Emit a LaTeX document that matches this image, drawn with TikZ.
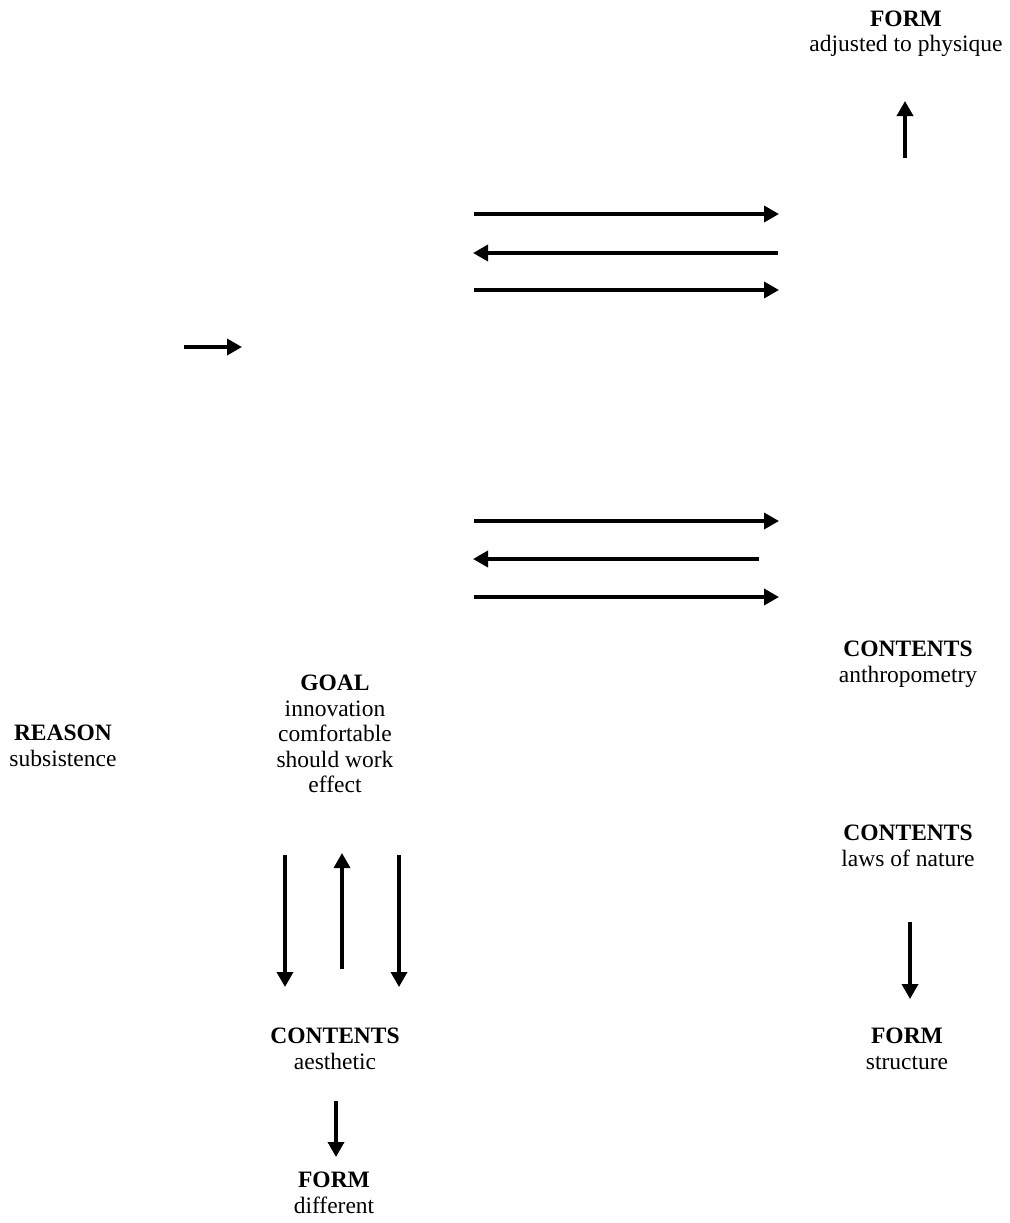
\documentclass[tikz,border=0pt]{standalone}
\usepackage{fontspec}
\setmainfont{Liberation Serif}
\usetikzlibrary{arrows.meta}
\tikzset{
  lbl/.style={align=center, inner sep=0pt, font={\fontsize{23.5}{25.5}\selectfont}},
  arr/.style={line width=3.5pt, -{Triangle[length=15pt,width=16pt]}}
}
\begin{document}
\begin{tikzpicture}[x=1pt,y=-1pt]
\useasboundingbox (0,0) rectangle (1009,1223);
% text nodes
\node[lbl] (formtop) at (906,34) {\textbf{FORM}\\adjusted to physique};
\node[lbl] (contA) at (908,664) {\textbf{CONTENTS}\\anthropometry};
\node[lbl] (reason) at (63,746) {\textbf{REASON}\\subsistence};
\node[lbl] (goal) at (335,734) {\textbf{GOAL}\\innovation\\comfortable\\should work\\effect};
\node[lbl] (contL) at (908,846) {\textbf{CONTENTS}\\laws of nature};
\node[lbl] (formS) at (907,1049) {\textbf{FORM}\\structure};
\node[lbl] (contAe) at (335,1049) {\textbf{CONTENTS}\\aesthetic};
\node[lbl] (formD) at (334,1193) {\textbf{FORM}\\different};
% arrow end points
\coordinate (u1) at (905,158); \coordinate (u2) at (905,101);
\coordinate (a1) at (474,214); \coordinate (a2) at (779,214);
\coordinate (b1) at (778,253); \coordinate (b2) at (473,253);
\coordinate (c1) at (474,290); \coordinate (c2) at (779,290);
\coordinate (s1) at (184,347); \coordinate (s2) at (242,347);
\coordinate (d1) at (474,521); \coordinate (d2) at (779,521);
\coordinate (e1) at (759,559); \coordinate (e2) at (473,559);
\coordinate (f1) at (474,597); \coordinate (f2) at (779,597);
\coordinate (g1) at (285,855); \coordinate (g2) at (285,987);
\coordinate (h1) at (342,969); \coordinate (h2) at (342,853);
\coordinate (i1) at (399,855); \coordinate (i2) at (399,987);
\coordinate (j1) at (910,922); \coordinate (j2) at (910,999);
\coordinate (k1) at (336,1101); \coordinate (k2) at (336,1157);
% arrows
\draw[arr] (u1) -- (u2);
\draw[arr] (a1) -- (a2);
\draw[arr] (b1) -- (b2);
\draw[arr] (c1) -- (c2);
\draw[arr] (s1) -- (s2);
\draw[arr] (d1) -- (d2);
\draw[arr] (e1) -- (e2);
\draw[arr] (f1) -- (f2);
\draw[arr] (g1) -- (g2);
\draw[arr] (h1) -- (h2);
\draw[arr] (i1) -- (i2);
\draw[arr] (j1) -- (j2);
\draw[arr] (k1) -- (k2);
\end{tikzpicture}
\end{document}
